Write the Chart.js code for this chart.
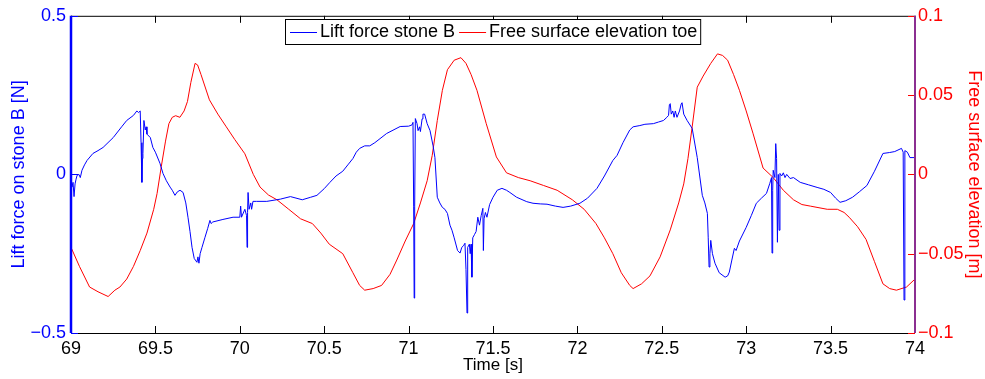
<!DOCTYPE html>
<html>
<head>
<meta charset="utf-8">
<script src="https://cdn.jsdelivr.net/npm/chart.js@4.4.1/dist/chart.umd.min.js"></script>
<style>
  html, body { margin: 0; padding: 0; background: #fff; }
  #wrap { width: 985px; height: 379px; }
</style>
</head>
<body>
<div id="wrap"><canvas id="c" width="985" height="379"></canvas></div>
<script>
// lift force on stone B [N] vs time [s]
const liftTime = [69.000, 69.006, 69.012, 69.018, 69.024, 69.030, 69.036, 69.047, 69.055, 69.065, 69.080, 69.095, 69.13, 69.16, 69.19, 69.25, 69.30, 69.33, 69.37, 69.39, 69.40, 69.41, 69.415, 69.42, 69.423, 69.426, 69.432, 69.44, 69.445, 69.45, 69.47, 69.485, 69.50, 69.527, 69.545, 69.565, 69.587, 69.60, 69.616, 69.63, 69.646, 69.664, 69.68, 69.693, 69.705, 69.717, 69.73, 69.746, 69.752, 69.758, 69.765, 69.776, 69.794, 69.81, 69.823, 69.83, 69.84, 69.90, 69.96, 70.00, 70.005, 70.01, 70.03, 70.04, 70.043, 70.046, 70.049, 70.055, 70.065, 70.07, 70.078, 70.10, 70.16, 70.24, 70.30, 70.37, 70.42, 70.457, 70.50, 70.534, 70.57, 70.61, 70.64, 70.67, 70.69, 70.71, 70.74, 70.77, 70.80, 70.87, 70.95, 71.00, 71.02, 71.026, 71.03, 71.033, 71.036, 71.04, 71.05, 71.056, 71.065, 71.07, 71.08, 71.085, 71.095, 71.11, 71.127, 71.145, 71.156, 71.17, 71.185, 71.20, 71.215, 71.23, 71.245, 71.257, 71.27, 71.29, 71.305, 71.315, 71.325, 71.334, 71.34, 71.346, 71.35, 71.36, 71.365, 71.37, 71.375, 71.38, 71.39, 71.40, 71.41, 71.42, 71.43, 71.44, 71.443, 71.447, 71.455, 71.464, 71.48, 71.50, 71.525, 71.553, 71.58, 71.60, 71.64, 71.70, 71.737, 71.78, 71.82, 71.87, 71.915, 71.96, 72.015, 72.06, 72.116, 72.16, 72.21, 72.235, 72.27, 72.31, 72.33, 72.37, 72.40, 72.45, 72.48, 72.51, 72.53, 72.54, 72.545, 72.55, 72.556, 72.565, 72.573, 72.58, 72.59, 72.605, 72.615, 72.62, 72.63, 72.65, 72.68, 72.71, 72.74, 72.755, 72.77, 72.775, 72.78, 72.785, 72.79, 72.80, 72.815, 72.84, 72.875, 72.89, 72.90, 72.915, 72.93, 72.94, 72.96, 73.00, 73.03, 73.06, 73.09, 73.12, 73.14, 73.15, 73.153, 73.157, 73.16, 73.17, 73.175, 73.18, 73.185, 73.19, 73.195, 73.20, 73.21, 73.22, 73.23, 73.24, 73.26, 73.28, 73.32, 73.37, 73.42, 73.46, 73.50, 73.53, 73.556, 73.59, 73.63, 73.67, 73.715, 73.76, 73.81, 73.85, 73.88, 73.92, 73.93, 73.935, 73.94, 73.955, 73.97, 74.00];
const liftForce = [-0.03, -0.04, -0.025, -0.07, -0.03, -0.015, -0.003, 0.0, -0.01, 0.013, 0.03, 0.044, 0.066, 0.075, 0.085, 0.116, 0.15, 0.17, 0.186, 0.2, 0.195, 0.2, 0.1, -0.025, 0.05, 0.066, 0.17, 0.14, 0.15, 0.127, 0.116, 0.085, 0.07, 0.035, 0.003, -0.02, -0.04, -0.05, -0.066, -0.055, -0.05, -0.057, -0.09, -0.135, -0.18, -0.23, -0.265, -0.277, -0.26, -0.28, -0.25, -0.23, -0.198, -0.17, -0.145, -0.155, -0.15, -0.142, -0.135, -0.135, -0.1, -0.135, -0.11, -0.13, -0.23, -0.12, -0.057, -0.11, -0.09, -0.11, -0.085, -0.085, -0.085, -0.078, -0.07, -0.08, -0.072, -0.066, -0.045, -0.025, -0.005, 0.01, 0.03, 0.05, 0.07, 0.082, 0.09, 0.09, 0.1, 0.129, 0.151, 0.152, 0.156, 0.164, -0.1, -0.39, -0.1, 0.176, 0.16, 0.138, 0.15, 0.135, 0.175, 0.19, 0.19, 0.16, 0.138, 0.09, 0.053, -0.072, -0.09, -0.104, -0.11, -0.123, -0.16, -0.176, -0.2, -0.24, -0.248, -0.23, -0.225, -0.217, -0.3, -0.437, -0.23, -0.22, -0.25, -0.22, -0.324, -0.2, -0.19, -0.18, -0.135, -0.16, -0.13, -0.107, -0.24, -0.14, -0.12, -0.135, -0.095, -0.072, -0.05, -0.044, -0.05, -0.057, -0.072, -0.086, -0.091, -0.093, -0.094, -0.1, -0.104, -0.1, -0.091, -0.075, -0.044, -0.005, 0.044, 0.06, 0.1, 0.14, 0.15, 0.154, 0.158, 0.16, 0.165, 0.17, 0.18, 0.186, 0.22, 0.223, 0.19, 0.2, 0.18, 0.2, 0.18, 0.2, 0.222, 0.226, 0.19, 0.17, 0.145, 0.053, -0.066, -0.09, -0.123, -0.2, -0.292, -0.25, -0.208, -0.25, -0.28, -0.31, -0.324, -0.32, -0.308, -0.27, -0.233, -0.24, -0.21, -0.167, -0.13, -0.091, -0.075, -0.06, -0.028, -0.01, -0.248, -0.05, 0.013, -0.01, 0.097, 0.05, -0.214, 0.0, -0.176, 0.003, -0.005, 0.005, -0.01, 0.0, -0.013, -0.01, -0.025, -0.033, -0.041, -0.047, -0.057, -0.075, -0.088, -0.083, -0.072, -0.055, -0.035, 0.01, 0.066, 0.069, 0.072, 0.082, 0.07, -0.396, 0.075, 0.07, 0.053, 0.053];

// free surface elevation at the toe [m] vs time [s]
const elevTime = [69.00, 69.05, 69.11, 69.16, 69.22, 69.26, 69.29, 69.33, 69.37, 69.41, 69.45, 69.49, 69.51, 69.535, 69.56, 69.58, 69.60, 69.62, 69.645, 69.67, 69.69, 69.71, 69.735, 69.75, 69.77, 69.82, 69.87, 69.92, 69.97, 70.03, 70.08, 70.12, 70.17, 70.22, 70.29, 70.36, 70.43, 70.48, 70.53, 70.61, 70.67, 70.71, 70.74, 70.79, 70.84, 70.89, 70.93, 70.98, 71.03, 71.07, 71.11, 71.14, 71.17, 71.20, 71.23, 71.27, 71.31, 71.34, 71.37, 71.405, 71.46, 71.52, 71.58, 71.65, 71.72, 71.80, 71.88, 71.97, 72.04, 72.11, 72.16, 72.21, 72.26, 72.31, 72.33, 72.38, 72.43, 72.49, 72.55, 72.60, 72.63, 72.655, 72.68, 72.71, 72.745, 72.79, 72.83, 72.86, 72.89, 72.925, 72.96, 73.00, 73.04, 73.10, 73.16, 73.22, 73.28, 73.33, 73.38, 73.48, 73.54, 73.58, 73.61, 73.66, 73.71, 73.76, 73.81, 73.85, 73.89, 73.95, 74.00];
const elevation = [-0.046, -0.058, -0.071, -0.074, -0.077, -0.073, -0.071, -0.066, -0.058, -0.048, -0.037, -0.022, -0.012, 0.005, 0.021, 0.032, 0.036, 0.037, 0.036, 0.04, 0.046, 0.058, 0.070, 0.069, 0.063, 0.047, 0.038, 0.030, 0.022, 0.013, 0.0, -0.008, -0.013, -0.016, -0.022, -0.028, -0.031, -0.037, -0.044, -0.050, -0.062, -0.07, -0.073, -0.072, -0.070, -0.063, -0.054, -0.042, -0.031, -0.018, -0.004, 0.012, 0.034, 0.053, 0.066, 0.072, 0.0736, 0.07, 0.063, 0.053, 0.032, 0.011, 0.001, -0.002, -0.004, -0.007, -0.010, -0.016, -0.022, -0.031, -0.04, -0.050, -0.062, -0.070, -0.072, -0.069, -0.064, -0.052, -0.035, -0.018, -0.006, 0.01, 0.030, 0.055, 0.062, 0.07, 0.076, 0.075, 0.072, 0.063, 0.053, 0.04, 0.026, 0.004, -0.002, -0.010, -0.016, -0.019, -0.020, -0.022, -0.022, -0.024, -0.027, -0.033, -0.041, -0.055, -0.069, -0.072, -0.073, -0.071, -0.066];

const timeTicks = [69, 69.5, 70, 70.5, 71, 71.5, 72, 72.5, 73, 73.5, 74];
const liftTicks = [-0.5, 0, 0.5];
const elevTicks = [-0.1, -0.05, 0, 0.05, 0.1];

const FONT = "'Liberation Sans', Arial, Helvetica, sans-serif";
const BLUE = '#0000ff';
const RED = '#ff0000';

const pts = (xs, ys) => xs.map((x, i) => ({ x: x, y: ys[i] }));
const fmt = v => String(v).replace('-', '\u2212');

// MATLAB-like box with inward ticks, drawn from the chart's own scales
const frame = {
    id: 'frame',
    afterDraw(chart) {
        const { ctx, chartArea: a, scales } = chart;
        const L = 7;
        ctx.save();
        ctx.lineWidth = 1;

        ctx.strokeStyle = '#000';
        ctx.beginPath();
        timeTicks.forEach(t => {
            const px = Math.round(scales.x.getPixelForValue(t)) + 0.5;
            ctx.moveTo(px, a.bottom); ctx.lineTo(px, a.bottom - L);
            ctx.moveTo(px, a.top); ctx.lineTo(px, a.top + L);
        });
        ctx.moveTo(a.left, a.top + 0.5); ctx.lineTo(a.right, a.top + 0.5);
        ctx.moveTo(a.left, a.bottom + 0.5); ctx.lineTo(a.right, a.bottom + 0.5);
        ctx.stroke();

        ctx.strokeStyle = BLUE;
        ctx.beginPath();
        liftTicks.forEach(v => {
            const py = Math.round(scales.y.getPixelForValue(v)) + 0.5;
            ctx.moveTo(a.left, py); ctx.lineTo(a.left + L, py);
        });
        ctx.stroke();

        ctx.strokeStyle = RED;
        ctx.beginPath();
        elevTicks.forEach(v => {
            const py = Math.round(scales.y2.getPixelForValue(v)) + 0.5;
            ctx.moveTo(a.right, py); ctx.lineTo(a.right - L, py);
        });
        ctx.stroke();

        ctx.lineWidth = 2.5;
        ctx.strokeStyle = BLUE;
        ctx.beginPath();
        ctx.moveTo(a.left, a.top); ctx.lineTo(a.left, a.bottom);
        ctx.stroke();

        ctx.lineWidth = 2;
        ctx.strokeStyle = '#8b2f91';
        ctx.beginPath();
        ctx.moveTo(a.right, a.top); ctx.lineTo(a.right, a.bottom);
        ctx.stroke();

        // legend box
        ctx.font = '18px ' + FONT;
        ctx.textBaseline = 'middle';
        const x0 = 285, y0 = 19, h = 25, cy = y0 + h / 2 + 0.5;
        let x = x0 + 5;
        const items = chart.data.datasets.map(ds => {
            const it = { label: ds.label, color: ds.borderColor, x: x };
            x += 30 + ctx.measureText(ds.label).width + 4;
            return it;
        });
        const x1 = x - 1;
        ctx.fillStyle = '#fff';
        ctx.fillRect(x0, y0, x1 - x0, h);
        ctx.lineWidth = 1;
        ctx.strokeStyle = '#000';
        ctx.strokeRect(x0 + 0.5, y0 + 0.5, x1 - x0, h);
        items.forEach(it => {
            ctx.strokeStyle = it.color;
            ctx.beginPath();
            ctx.moveTo(it.x, Math.round(cy) + 0.5); ctx.lineTo(it.x + 27, Math.round(cy) + 0.5);
            ctx.stroke();
            ctx.fillStyle = '#000';
            ctx.fillText(it.label, it.x + 30, cy);
        });
        ctx.restore();
    }
};

new Chart(document.getElementById('c'), {
    type: 'line',
    data: {
        datasets: [
            {
                label: 'Lift force stone B',
                data: pts(liftTime, liftForce),
                yAxisID: 'y',
                borderColor: BLUE,
                borderWidth: 1,
                pointRadius: 0,
                tension: 0
            },
            {
                label: 'Free surface elevation toe',
                data: pts(elevTime, elevation),
                yAxisID: 'y2',
                borderColor: RED,
                borderWidth: 1,
                pointRadius: 0,
                tension: 0
            }
        ]
    },
    options: {
        responsive: false,
        animation: false,
        layout: { padding: { top: 15, left: 0, right: 0, bottom: 0 } },
        plugins: { legend: { display: false }, tooltip: { enabled: false } },
        scales: {
            x: {
                type: 'linear', min: 69, max: 74,
                afterFit: s => { s.height = 46; },
                afterBuildTicks: s => { s.ticks = timeTicks.map(v => ({ value: v })); },
                grid: { display: false, drawTicks: false },
                border: { display: false },
                ticks: { color: '#000', padding: 5, maxRotation: 0, autoSkip: false,
                         font: { size: 18, family: FONT }, callback: v => fmt(v) },
                title: { display: true, text: 'Time [s]', color: '#000',
                         font: { size: 17, family: FONT }, padding: { bottom: 3 } }
            },
            y: {
                type: 'linear', position: 'left', min: -0.5, max: 0.5,
                afterFit: s => { s.width = 71; },
                afterBuildTicks: s => { s.ticks = liftTicks.map(v => ({ value: v })); },
                grid: { display: false, drawTicks: false },
                border: { display: false },
                ticks: { color: BLUE, padding: 5, font: { size: 18, family: FONT }, callback: v => fmt(v) },
                title: { display: true, text: 'Lift force on stone B [N]', color: BLUE,
                         font: { size: 18, family: FONT }, padding: { top: 8 } }
            },
            y2: {
                type: 'linear', position: 'right', min: -0.1, max: 0.1,
                afterFit: s => { s.width = 70; },
                afterBuildTicks: s => { s.ticks = elevTicks.map(v => ({ value: v })); },
                grid: { display: false, drawTicks: false },
                border: { display: false },
                ticks: { color: RED, padding: 3, font: { size: 18, family: FONT }, callback: v => fmt(v) },
                title: { display: true, text: 'Free surface elevation [m]', color: RED,
                         font: { size: 18, family: FONT }, padding: { top: 0 } }
            }
        }
    },
    plugins: [frame]
});
</script>
</body>
</html>
